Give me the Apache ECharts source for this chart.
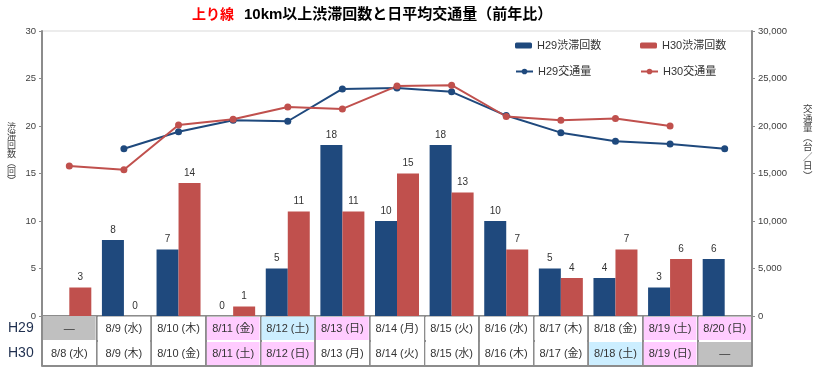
<!DOCTYPE html>
<html>
<head>
<meta charset="utf-8">
<script src="https://cdn.jsdelivr.net/npm/echarts@6/dist/echarts.min.js"></script>
<style>html,body{margin:0;padding:0;background:#fff;}#c{width:820px;height:373px;}</style>
</head>
<body>
<div id="c"></div>
<script>
// ---- data ----
var categories = ['c1','c2','c3','c4','c5','c6','c7','c8','c9','c10','c11','c12','c13'];
var h29Labels = ['—','8/9 (水)','8/10 (木)','8/11 (金)','8/12 (土)','8/13 (日)','8/14 (月)','8/15 (火)','8/16 (水)','8/17 (木)','8/18 (金)','8/19 (土)','8/20 (日)'];
var h30Labels = ['8/8 (水)','8/9 (木)','8/10 (金)','8/11 (土)','8/12 (日)','8/13 (月)','8/14 (火)','8/15 (水)','8/16 (木)','8/17 (金)','8/18 (土)','8/19 (日)','—'];
var h29DayType = ['none','wd','wd','hol','sat','hol','wd','wd','wd','wd','wd','hol','hol'];
var h30DayType = ['wd','wd','wd','hol','hol','wd','wd','wd','wd','wd','sat','hol','none'];
var h29Jam = [null, 8, 7, 0, 5, 18, 10, 18, 10, 5, 4, 3, 6];
var h30Jam = [3, 0, 14, 1, 11, 11, 15, 13, 7, 4, 7, 6, null];
var h29Traffic = [null, 17600, 19400, 20600, 20500, 23900, 24000, 23600, 21100, 19300, 18400, 18100, 17600];
var h30Traffic = [15800, 15400, 20100, 20700, 22000, 21800, 24200, 24300, 21000, 20600, 20800, 20000, null];
var leftTicks = {min: 0, max: 30, interval: 5};
var rightTicks = {min: 0, max: 30000, interval: 5000};

// ---- styles ----
var NAVY = '#1f497d', RED = '#c0504d';
var FONT = 'Arial, "Liberation Sans", "Noto Sans CJK JP", sans-serif';
var cellBg = {none: '#c0c0c0', wd: '#ffffff', hol: '#ffccff', sat: '#cceeff'};
var CW = 710 / 13;
function cellRich() {
  var r = {};
  Object.keys(cellBg).forEach(function (k) {
    r[k] = {width: CW - 2, height: 23, lineHeight: 23, align: 'center', verticalAlign: 'middle',
      backgroundColor: cellBg[k], fontSize: 11, color: '#333', fontFamily: FONT};
  });
  return r;
}
var legendText = {fontSize: 11, color: '#333', fontFamily: FONT};

var chart = echarts.init(document.getElementById('c'), null, {renderer: 'canvas'});
var option = {
  animation: false,
  backgroundColor: '#fff',
  textStyle: {fontFamily: FONT},
  title: {
    text: '{r|上り線}  {b|10km以上渋滞回数と日平均交通量（前年比）}',
    left: 192, top: 6, padding: 0,
    textStyle: {rich: {
      r: {color: '#ff0000', fontSize: 14, fontWeight: 'bold', fontFamily: FONT},
      b: {color: '#000', fontSize: 15, fontWeight: 'bold', fontFamily: FONT}
    }}
  },
  legend: [
    {data: ['H29渋滞回数'], left: 515, top: 40, padding: 0, itemWidth: 17, itemHeight: 6, itemGap: 2, textStyle: legendText},
    {data: ['H30渋滞回数'], left: 640, top: 40, padding: 0, itemWidth: 17, itemHeight: 6, textStyle: legendText},
    {data: ['H29交通量'], left: 515, top: 66, padding: 0, itemWidth: 17, itemHeight: 7, textStyle: legendText},
    {data: ['H30交通量'], left: 640, top: 66, padding: 0, itemWidth: 17, itemHeight: 7, textStyle: legendText}
  ],
  grid: {left: 42, right: 68, top: 31, bottom: 57, show: true, borderColor: '#d9d9d9', borderWidth: 1},
  xAxis: [
    {type: 'category', data: categories, position: 'bottom',
      axisLine: {lineStyle: {color: '#8c8c8c', width: 2}},
      axisTick: {show: true, length: 50, lineStyle: {color: '#8c8c8c', width: 2}},
      axisLabel: {interval: 0, margin: 1, formatter: function (v, i) { return '{' + h29DayType[i] + '|' + h29Labels[i] + '}'; }, rich: cellRich()}
    },
    {type: 'category', data: categories, position: 'bottom', offset: 25,
      axisLine: {show: true, lineStyle: {color: '#bfbfbf', width: 1}},
      axisTick: {show: false},
      axisLabel: {interval: 0, margin: 1, formatter: function (v, i) { return '{' + h30DayType[i] + '|' + h30Labels[i] + '}'; }, rich: cellRich()}
    },
    {type: 'category', data: categories, position: 'bottom', offset: 50,
      axisLine: {show: true, lineStyle: {color: '#8c8c8c', width: 2}},
      axisTick: {show: false}, axisLabel: {show: false}
    }
  ],
  yAxis: [
    {type: 'value', min: leftTicks.min, max: leftTicks.max, interval: leftTicks.interval, position: 'left',
      axisLine: {show: true, lineStyle: {color: '#8c8c8c', width: 2}},
      axisTick: {show: true, length: 3, lineStyle: {color: '#8c8c8c'}},
      splitLine: {show: false},
      axisLabel: {fontSize: 9.5, color: '#404040', margin: 6}
    },
    {type: 'value', min: rightTicks.min, max: rightTicks.max, interval: rightTicks.interval, position: 'right',
      axisLine: {show: true, lineStyle: {color: '#8c8c8c', width: 2}},
      axisTick: {show: true, length: 3, lineStyle: {color: '#8c8c8c'}},
      splitLine: {show: false},
      axisLabel: {fontSize: 9.5, color: '#404040', margin: 6, formatter: function (v) { return v.toLocaleString('en-US'); }}
    }
  ],
  graphic: [
    {type: 'text', left: 7, top: 122, style: {text: '渋\n滞\n回\n数\n︵\n回\n︶', font: '9px "Noto Sans CJK JP"', lineHeight: 9, fill: '#404040'}},
    {type: 'text', left: 803, top: 104, style: {text: '交\n通\n量\n︵\n台\n／\n日\n︶', font: '9.5px "Noto Sans CJK JP"', lineHeight: 9.5, fill: '#404040'}},
    {type: 'text', left: 8, top: 321, style: {text: 'H29', font: '14px Arial, "Liberation Sans"', fill: '#1f2f4f'}},
    {type: 'text', left: 8, top: 346, style: {text: 'H30', font: '14px Arial, "Liberation Sans"', fill: '#1f2f4f'}}
  ],
  series: [
    {name: 'H29渋滞回数', type: 'bar', data: h29Jam, barWidth: 22, barGap: '0%', itemStyle: {color: NAVY},
      label: {show: true, position: 'top', distance: 5, fontSize: 10, color: '#333'}},
    {name: 'H30渋滞回数', type: 'bar', data: h30Jam, barWidth: 22, barGap: '0%', itemStyle: {color: RED},
      label: {show: true, position: 'top', distance: 5, fontSize: 10, color: '#333'}},
    {name: 'H29交通量', type: 'line', yAxisIndex: 1, data: h29Traffic, symbol: 'circle', symbolSize: 7,
      itemStyle: {color: NAVY}, lineStyle: {color: NAVY, width: 2}},
    {name: 'H30交通量', type: 'line', yAxisIndex: 1, data: h30Traffic, symbol: 'circle', symbolSize: 7,
      itemStyle: {color: RED}, lineStyle: {color: RED, width: 2}}
  ]
};
chart.setOption(option);
</script>
</body>
</html>
